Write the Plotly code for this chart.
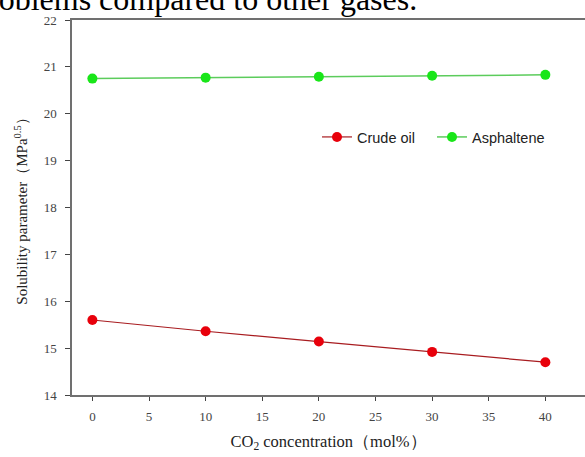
import plotly.graph_objects as go

co2_mol = [0, 10, 20, 30, 40]
crude_oil = [15.60, 15.36, 15.14, 14.92, 14.70]
asphaltene = [20.75, 20.77, 20.79, 20.81, 20.83]
x_ticks = [0, 5, 10, 15, 20, 25, 30, 35, 40]
y_ticks = [14, 15, 16, 17, 18, 19, 20, 21, 22]

serif = "Liberation Serif, Times New Roman, serif"
sans = "Liberation Sans, Arial, sans-serif"

fig = go.Figure()
fig.add_trace(go.Scatter(
    x=co2_mol, y=crude_oil, name="Crude oil", mode="lines+markers",
    line=dict(color="#a81c20", width=1.2),
    marker=dict(color="#e8000b", size=10),
))
fig.add_trace(go.Scatter(
    x=co2_mol, y=asphaltene, name="Asphaltene", mode="lines+markers",
    line=dict(color="#5ccc5c", width=1.5),
    marker=dict(color="#19e619", size=10),
))

fig.update_layout(
    width=585, height=457,
    margin=dict(l=72, r=0, t=20, b=62),
    paper_bgcolor="white", plot_bgcolor="white",
    showlegend=True,
    legend=dict(
        orientation="h", x=0.4776, y=0.688, xanchor="left", yanchor="middle",
        font=dict(family=sans, size=14.5, color="#222"),
        bgcolor="rgba(0,0,0,0)", tracegroupgap=0, entrywidth=70,
    ),
    font=dict(family=serif, size=13, color="#444"),
)

fig.update_xaxes(
    range=[-1.8, 43.5], tickvals=x_ticks, ticks="outside", ticklen=4,
    tickcolor="#444", showline=True, linecolor="#707070", linewidth=1.5,
    mirror=True, showgrid=False, zeroline=False, ticklabelstandoff=5,
    tickfont=dict(family=serif, size=13, color="#444"),
    title=dict(text="CO<sub>2</sub> concentration（mol%）",
               font=dict(family=serif, size=16.5, color="#222"), standoff=12),
)
fig.update_yaxes(
    range=[14, 22], tickvals=y_ticks, ticks="outside", ticklen=5,
    tickcolor="#444", showline=True, linecolor="#707070", linewidth=1.5,
    showgrid=False, zeroline=False, ticklabelstandoff=6,
    tickfont=dict(family=serif, size=13, color="#444"),
    title=dict(text="Solubility parameter（MPa<sup>0.5</sup>）",
               font=dict(family=serif, size=15, color="#222"), standoff=12),
)

# Running text line from the surrounding page, clipped at the top edge
fig.add_annotation(
    text="problems compared to other gases.", xref="paper", yref="paper",
    x=(-30 - 72) / 513, y=1.0, xanchor="left", yanchor="bottom", yshift=1.0,
    showarrow=False, font=dict(family=serif, size=32, color="black"),
)

fig.write_html("out.html")
